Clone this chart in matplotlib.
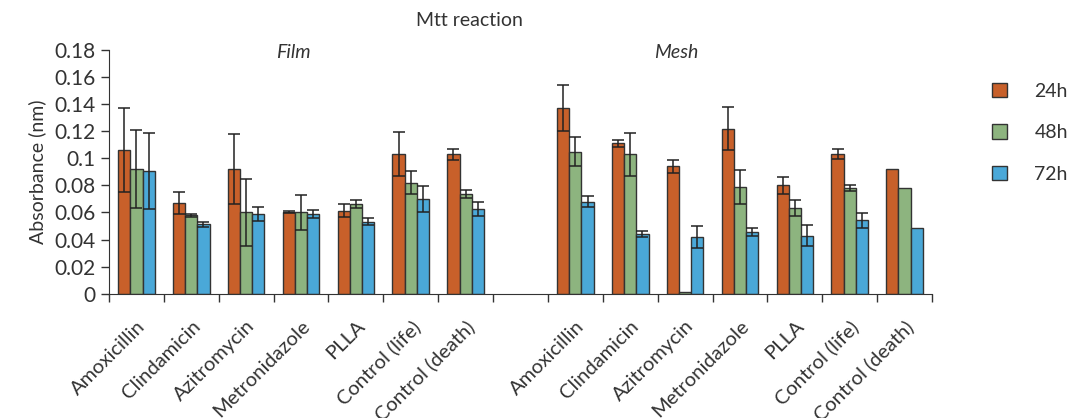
import numpy as np
import matplotlib.pyplot as plt

plt.rcParams['font.family'] = ['Lato', 'DejaVu Sans']

drugs = ["Amoxicillin", "Clindamicin", "Azitromycin", "Metronidazole",
         "PLLA", "Control (life)", "Control (death)"]
times = ["24h", "48h", "72h"]

# film group
film_24 = [0.106, 0.067, 0.092, 0.0604, 0.0613, 0.1032, 0.103]
film_48 = [0.092, 0.058, 0.060, 0.060, 0.066, 0.082, 0.0739]
film_72 = [0.0905, 0.0513, 0.059, 0.059, 0.0532, 0.0702, 0.0624]
film_24_err = [0.031, 0.008, 0.026, 0.001, 0.005, 0.0165, 0.004]
film_48_err = [0.029, 0.001, 0.025, 0.013, 0.003, 0.0087, 0.003]
film_72_err = [0.028, 0.002, 0.005, 0.003, 0.0025, 0.0095, 0.005]

# mesh group
mesh_24 = [0.137, 0.111, 0.094, 0.122, 0.080, 0.1032, 0.092]
mesh_48 = [0.105, 0.103, 0.0012, 0.079, 0.0633, 0.078, 0.078]
mesh_72 = [0.068, 0.0441, 0.042, 0.0458, 0.0429, 0.0542, 0.0483]
mesh_24_err = [0.017, 0.0026, 0.0048, 0.016, 0.0065, 0.0038, 0]
mesh_48_err = [0.011, 0.016, 0, 0.0124, 0.0062, 0.002, 0]
mesh_72_err = [0.0042, 0.0019, 0.008, 0.003, 0.0079, 0.0054, 0]

colors = ['#C8602A', '#8DB47F', '#4AA8D8']

series = [film_24 + [np.nan] + mesh_24,
          film_48 + [np.nan] + mesh_48,
          film_72 + [np.nan] + mesh_72]
errors = [film_24_err + [0] + mesh_24_err,
          film_48_err + [0] + mesh_48_err,
          film_72_err + [0] + mesh_72_err]
labels = drugs + [""] + drugs

fig = plt.figure(figsize=(10.7, 4.18), dpi=100)
ax = fig.add_axes([109/1070, 1-293.7/418, (932-109)/1070, 243.7/418])

x = np.arange(len(labels))
w = 0.222
for i in range(3):
    vals = np.array(series[i], dtype=float)
    err = np.array(errors[i], dtype=float)
    pos = x + (i-1)*w
    ax.bar(pos, vals, width=w, color=colors[i], edgecolor='#333333',
           linewidth=1.0, label=times[i], zorder=2)
    m = err > 0
    ax.errorbar(pos[m], vals[m], yerr=err[m], fmt='none', ecolor='#222222',
                elinewidth=1.1, capsize=4, capthick=1.1, zorder=3)

ax.set_xlim(-0.5, len(labels)-0.5)
ax.set_ylim(0, 0.18)
ax.set_yticks(np.arange(0, 0.181, 0.02))
ax.set_yticklabels(["0", "0.02", "0.04", "0.06", "0.08", "0.1", "0.12",
                    "0.14", "0.16", "0.18"])
ax.set_xticks(np.arange(-0.5, len(labels), 1.0))
ax.set_xticklabels([])
ax.set_xticks(x, minor=True)
ax.set_xticklabels(labels, minor=True, rotation=45, ha='right',
                   rotation_mode='anchor')
ax.tick_params(axis='x', which='minor', length=0, pad=17, labelsize=14.5,
               labelcolor='#333333')
ax.tick_params(axis='both', which='major', length=6, width=1,
               color='#333333', labelsize=15, labelcolor='#333333')
for s in ['top', 'right']:
    ax.spines[s].set_visible(False)
for s in ['left', 'bottom']:
    ax.spines[s].set_color('#333333')
ax.set_ylabel("Absorbance (nm)", fontsize=14, color='#333333', labelpad=6)

fig.text(469/1070, 1-20/418, "Mtt reaction", ha='center', va='center',
         fontsize=14, color='#333333')
fig.text(293/1070, 1-52/418, "Film", ha='center', va='center',
         fontsize=14, style='italic', color='#333333')
fig.text(676/1070, 1-52/418, "Mesh", ha='center', va='center',
         fontsize=14, style='italic', color='#333333')

fig.legend(loc='upper left', bbox_to_anchor=(978/1070, 1-69/418),
           frameon=False, fontsize=14, handlelength=0.8, handleheight=0.8,
           handletextpad=1.4, labelspacing=1.25, labelcolor='#333333',
           borderpad=0.2)

fig.savefig("out.png", dpi=100)
